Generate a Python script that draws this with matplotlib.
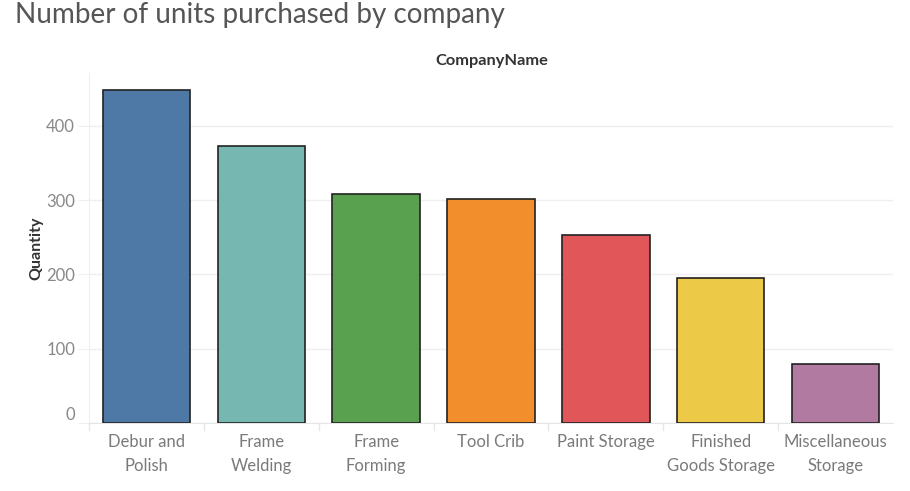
import matplotlib
matplotlib.use("Agg")
import matplotlib.pyplot as plt
from matplotlib.lines import Line2D

companies = ["Debur and\nPolish", "Frame\nWelding", "Frame\nForming", "Tool Crib",
             "Paint Storage", "Finished\nGoods Storage", "Miscellaneous\nStorage"]
quantities = [448, 373, 308, 302, 253, 195, 79]
colors = ["#4e79a7", "#76b7b2", "#59a14f", "#f28e2b", "#e15759", "#edc948", "#b07aa1"]
y_ticks = [0, 100, 200, 300, 400]

plt.rcParams["font.family"] = ["Lato", "DejaVu Sans"]

W, H = 910, 491
fig = plt.figure(figsize=(W / 100, H / 100), dpi=100)
ax = fig.add_axes([89 / W, (H - 423) / H, (893 - 89) / W, (423 - 73) / H])

x = list(range(len(companies)))
ax.bar(x, quantities, width=0.76, color=colors, edgecolor="#222222", linewidth=1.2, zorder=3)

ax.set_xlim(-0.5, len(companies) - 0.5)
ax.set_ylim(0, 471)
ax.set_yticks(y_ticks)
ax.set_yticklabels([str(v) for v in y_ticks])
ax.grid(axis="y", color="#efefef", linewidth=1.0, zorder=0)
ax.tick_params(axis="y", length=8, color="#efefef", labelsize=12, labelcolor="#888888", pad=2)
# lift the zero label so it sits above the baseline
for lbl in ax.get_yticklabels():
    if lbl.get_text() == "0":
        lbl.set_verticalalignment("bottom")

ax.set_xticks(x)
ax.set_xticklabels(companies, fontsize=12, color="#7a7a7a", linespacing=1.6)
ax.tick_params(axis="x", length=0, pad=8)
# separators between category panes below the baseline
for b in [i + 0.5 for i in x[:-1]] + [-0.5]:
    ax.add_line(Line2D([b, b], [0, -9], color="#e6e6e6", linewidth=1, clip_on=False))

for side in ["top", "right"]:
    ax.spines[side].set_visible(False)
ax.spines["left"].set_color("#efefef")
ax.spines["bottom"].set_color("#e6e6e6")

ax.set_ylabel("Quantity", fontsize=11.5, fontweight="bold", color="#333333", labelpad=2)

fig.text(15 / W, 1 - 15 / H, "Number of units purchased by company", fontsize=20.1,
         color="#555555", ha="left", va="center")
fig.text(492 / W, 1 - 61 / H, "CompanyName", fontsize=11.8, fontweight="bold",
         color="#333333", ha="center", va="center")

fig.savefig("out.png", dpi=100)
